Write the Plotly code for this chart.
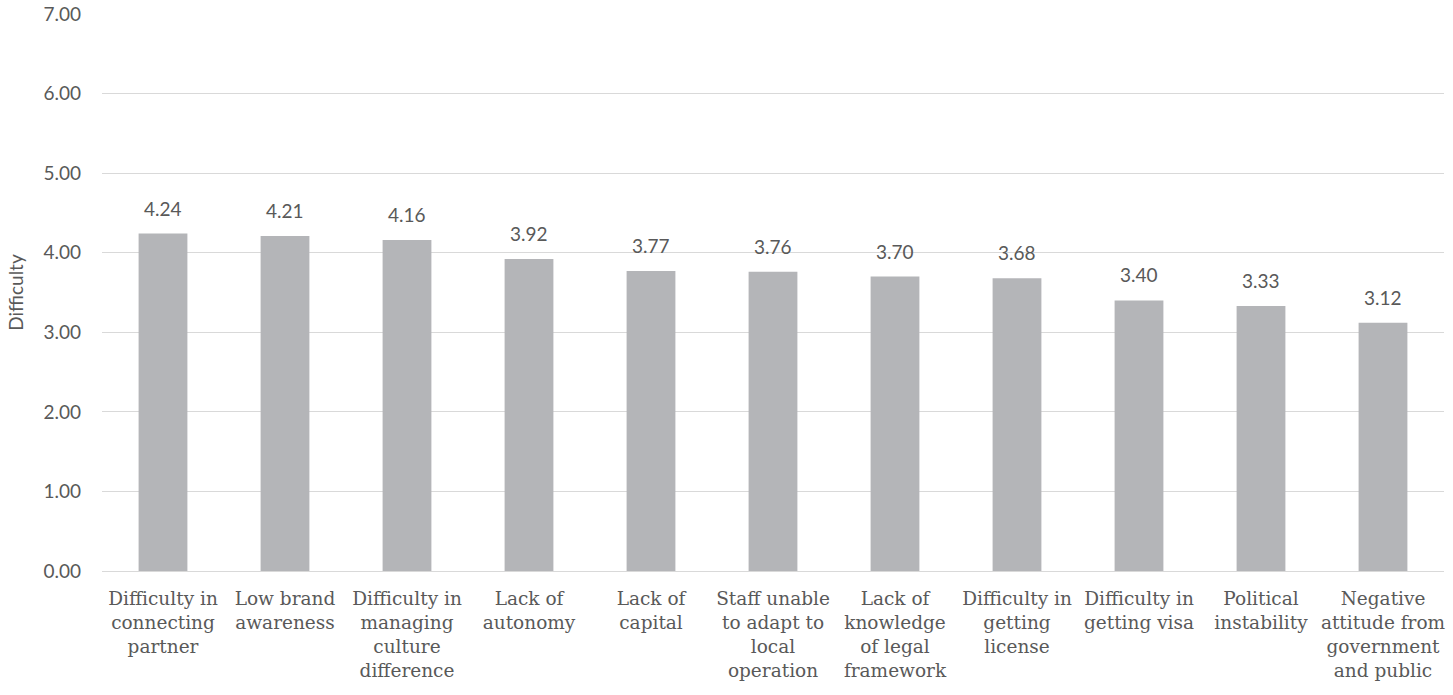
import plotly.graph_objects as go

categories = [
    "Difficulty in<br>connecting<br>partner",
    "Low brand<br>awareness",
    "Difficulty in<br>managing<br>culture<br>difference",
    "Lack of<br>autonomy",
    "Lack of<br>capital",
    "Staff unable<br>to adapt to<br>local<br>operation",
    "Lack of<br>knowledge<br>of legal<br>framework",
    "Difficulty in<br>getting<br>license",
    "Difficulty in<br>getting visa",
    "Political<br>instability",
    "Negative<br>attitude from<br>government<br>and public",
]
values = [4.24, 4.21, 4.16, 3.92, 3.77, 3.76, 3.70, 3.68, 3.40, 3.33, 3.12]
y_ticks = [0, 1, 2, 3, 4, 5, 6, 7]

x_idx = list(range(len(categories)))

SERIF = "DejaVu Serif"
SANS = "Lato, Open Sans, sans-serif"

fig = go.Figure()
fig.add_trace(go.Bar(
    x=x_idx, y=values, marker_color="#b4b5b8", width=0.4,
    marker_line_width=0,
))

for i, v in zip(x_idx, values):
    fig.add_annotation(
        x=i, y=v, text=f"{v:.2f}", showarrow=False,
        yanchor="bottom", yshift=12,
        font=dict(family=SANS, size=19, color="#595959"),
    )

fig.update_layout(
    width=1453, height=695,
    margin=dict(l=102, r=9, t=14, b=124),
    plot_bgcolor="white", paper_bgcolor="white",
    showlegend=False,
    bargap=0.6,
)
fig.update_xaxes(
    tickmode="array", tickvals=x_idx, ticktext=categories,
    range=[-0.5, len(categories) - 0.5],
    tickfont=dict(family=SERIF, size=18.5, color="#595959"),
    showgrid=False, zeroline=False,
    showline=True, linecolor="#d9d9d9", linewidth=1,
    ticks="", tickangle=0,
    ticklabelstandoff=11,
    automargin=False,
)
fig.update_yaxes(
    range=[0, 7], tickvals=y_ticks,
    ticktext=[f"{t:.2f}" for t in y_ticks],
    tickfont=dict(family=SANS, size=19, color="#595959"),
    showgrid=True, gridcolor="#d9d9d9", gridwidth=1,
    zeroline=False, showline=False,
    ticklabelstandoff=20,
    automargin=False,
    title=dict(text="Difficulty", font=dict(family=SANS, size=19, color="#595959"), standoff=14),
)

fig.write_html("out.html")
